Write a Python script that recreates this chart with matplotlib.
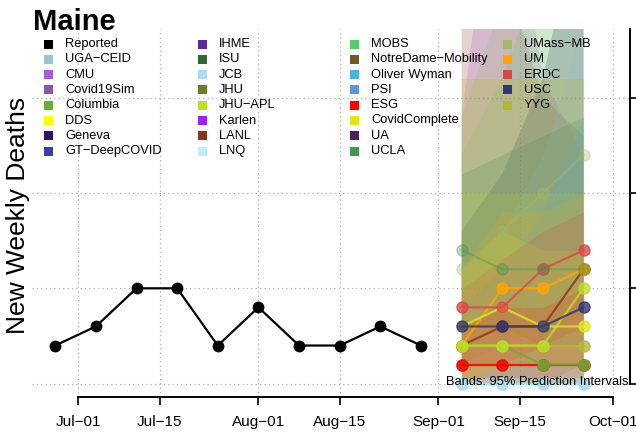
import matplotlib
matplotlib.use("Agg")
import matplotlib.pyplot as plt
import matplotlib.dates as mdates
from matplotlib.patches import Rectangle
import numpy as np

plt.rcParams['font.family'] = ['Liberation Sans', 'DejaVu Sans']

# reported weekly deaths
rep_dates = np.array(['2020-06-27', '2020-07-04', '2020-07-11', '2020-07-18', '2020-07-25',
                      '2020-08-01', '2020-08-08', '2020-08-15', '2020-08-22', '2020-08-29'],
                     dtype='datetime64[D]')
rep_vals = [2, 3, 5, 5, 2, 4, 2, 2, 3, 2]

# forecast weeks
fc_dates = np.array(['2020-09-05', '2020-09-12', '2020-09-19', '2020-09-26'], dtype='datetime64[D]')

# model colours (legend order)
models = ['Reported', 'UGA-CEID', 'CMU', 'Covid19Sim', 'Columbia', 'DDS', 'Geneva', 'GT-DeepCOVID',
          'IHME', 'ISU', 'JCB', 'JHU', 'JHU-APL', 'Karlen', 'LANL', 'LNQ',
          'MOBS', 'NotreDame-Mobility', 'Oliver Wyman', 'PSI', 'ESG', 'CovidComplete', 'UA', 'UCLA',
          'UMass-MB', 'UM', 'ERDC', 'USC', 'YYG']
colors = ['#000000', '#9BC0CF', '#A45EDB', '#8856A7', '#6BAF36', '#FFFF00', '#2A1566', '#3D3E9E',
          '#5A2A9E', '#2F6B37', '#ADDDEA', '#6E7B2B', '#BDDE2A', '#A020F0', '#8B3220', '#BFEEF8',
          '#58C96B', '#6E5A26', '#4FB1D8', '#6493E0', '#FF0000', '#E0E61B', '#4B1F63', '#449452',
          '#A2B86A', '#FFA500', '#DA4848', '#2F3670', '#B5B731']
col = dict(zip(models, colors))

# 95% prediction bands (lower, upper)
band_names = ['LANL', 'CMU', 'UMass-MB', 'MOBS', 'JCB', 'USC', 'YYG', 'UCLA', 'JHU-APL',
              'Oliver Wyman', 'UM', 'ERDC', 'CovidComplete', 'ESG', 'LNQ']
band_lo = [[0, 0, 0, 1], [0, 0, 0, 0], [1, 2, 3, 4], [2, 3, 4, 5], [0, 0, 0, 0], [1, 1, 1, 1],
           [0, 0, 0, 0], [3, 3, 2, 2], [0, 0, 0, 0], [0, 0, 0, 0], [0, 1, 1, 1], [1, 1, 2, 3],
           [0, 1, 1, 1], [0, 0, 0, 0], [-0.3, -0.3, -0.3, -0.3]]
band_hi = [[26, 22, 15, 13], [14, 30, 16, 12], [14, 20, 28, 34], [12, 16, 22, 28], [5, 8, 12, 19],
           [8, 11, 16, 26], [16, 16, 16, 16], [11, 12, 13, 14], [10, 10, 10, 10], [4, 6, 9, 14],
           [6, 9, 9, 10], [5, 6.5, 8, 9], [6, 8, 7, 7], [3, 4, 4, 5], [0.3, 0.3, 0.3, 0.3]]
band_alpha = [0.22, 0.22, 0.22, 0.18, 0.22, 0.22, 0.25, 0.2, 0.15, 0.15, 0.15, 0.2, 0.15, 0.15, 0.4]

# point forecasts
fc_names = ['LNQ', 'JCB', 'JHU', 'ESG', 'Columbia', 'LANL', 'UM', 'YYG', 'JHU-APL', 'CovidComplete',
            'USC', 'ERDC', 'UCLA', 'UMass-MB']
fc_vals = [[0, 0, 0, 0], [0, 0, 0, 0], [1, 1, 1, 1], [1, 1, 1, 1], [2, 2, 1, 1], [2, 3, 3, 6],
           [2, 5, 5, 6], [2, 2, 2, 2], [2, 2, 2, 5], [3, 4, 3, 3], [3, 3, 3, 4], [4, 4, 6, 7],
           [7, 6, 6, 6], [6, 8, 10, 12]]
fc_alpha = [0.8] * 12 + [0.35, 0.35]

xticks = np.array(['2020-07-01', '2020-07-15', '2020-08-01', '2020-08-15', '2020-09-01',
                   '2020-09-15', '2020-10-01'], dtype='datetime64[D]')
yticks = [0, 5, 10, 15]

W, H = 636, 434
fig = plt.figure(figsize=(W / 100, H / 100), dpi=100)
ax = fig.add_axes([32 / W, 1 - 397 / H, (630 - 32) / W, (397 - 29) / H])

for name, lo, hi, a in zip(band_names, band_lo, band_hi, band_alpha):
    ax.fill_between(fc_dates, lo, hi, color=col[name], alpha=a, linewidth=0)

for name, v, a in zip(fc_names, fc_vals, fc_alpha):
    ax.plot(fc_dates, v, color=col[name], lw=1.6, marker='o', ms=8, alpha=a, zorder=3)

ax.plot(rep_dates, rep_vals, color='black', lw=1.6, marker='o', ms=7.5, zorder=4)

ax.set_xlim(np.datetime64('2020-06-23'), np.datetime64('2020-10-04'))
ax.set_ylim(-0.7, 18.6)

for t in xticks:
    ax.axvline(t, color='#B0B0B0', lw=0.9, ls=(0, (1, 2.5)), zorder=0)
for t in yticks:
    ax.axhline(t, color='#B0B0B0', lw=0.9, ls=(0, (1, 2.5)), zorder=0)

ax.set_xticks(xticks)
ax.xaxis.set_major_formatter(mdates.DateFormatter('%b\u2212%d'))
ax.tick_params(axis='x', labelsize=11, length=6, width=1.2, pad=7)
ax.yaxis.tick_right()
ax.set_yticks(yticks)
ax.tick_params(axis='y', labelright=False, length=6, width=1.2)
ax.spines['left'].set_visible(False)
ax.spines['top'].set_visible(False)
ax.spines['bottom'].set_bounds(xticks[0], xticks[-1])
ax.spines['right'].set_bounds(0, 18.6)
ax.spines['bottom'].set_linewidth(1.4)
ax.spines['right'].set_linewidth(1.4)

ax.text(0.997, 0.04, 'Bands: 95% Prediction Intervals', transform=ax.transAxes,
        ha='right', va='center', fontsize=9.3)

fig.text(33 / W, 1 - 30 / H, 'Maine', fontsize=21, fontweight='bold', ha='left', va='baseline')
fig.text(18 / W, 1 - 215 / H, 'New Weekly Deaths', fontsize=19, rotation=90, ha='center', va='center')

# legend, 4 columns of 8
col_x = [44, 198, 350, 503]
row_y0, row_dy = 44, 15.3
for i, name in enumerate(models):
    c, r = divmod(i, 8)
    x = col_x[c]
    y = row_y0 + r * row_dy
    fig.add_artist(Rectangle((x / W, 1 - (y + 4.5) / H), 9 / W, 9 / H,
                             transform=fig.transFigure, color=col[name], lw=0))
    fig.text((x + 21) / W, 1 - y / H, name.replace('-', '\u2212'), fontsize=9.3,
             ha='left', va='center')

fig.savefig('out.png', dpi=100)
